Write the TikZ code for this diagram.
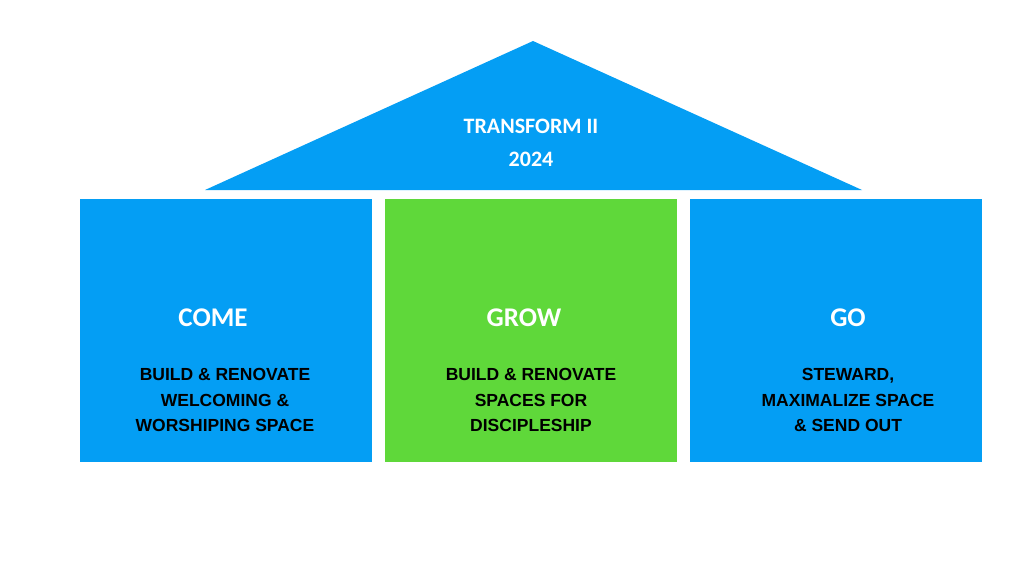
\documentclass[tikz,border=0pt]{standalone}
\usepackage{fontspec}
\setmainfont{Liberation Sans}
\newfontfamily\carlitofont{Carlito}
\definecolor{bl}{HTML}{049EF4}
\definecolor{gr}{HTML}{5FD83A}
\begin{document}
\begin{tikzpicture}[x=1pt,y=-1pt,
 title/.style={text=white,font=\carlitofont\bfseries\fontsize{27}{30}\selectfont},
 body/.style={text=black,align=center,font=\bfseries\fontsize{17.5}{25.5}\selectfont}]
\useasboundingbox (0,0) rectangle (1024,576);
\fill[bl] (533,41) -- (862,190) -- (205,190) -- cycle;
\node[text=white,align=center,font=\carlitofont\bfseries\fontsize{22}{33}\selectfont] (roof) at (531,143) {TRANSFORM II\\2024};
\fill[bl] (80,199) rectangle (372,462);
\fill[gr] (385,199) rectangle (677,462);
\fill[bl] (690,199) rectangle (982,462);
\node[title] (t1) at (213,318) {COME};
\node[title] (t2) at (524,318) {GROW};
\node[title] (t3) at (848,318) {GO};
\node[body] (b1) at (225,400) {BUILD \& RENOVATE\\WELCOMING \&\\WORSHIPING SPACE};
\node[body] (b2) at (531,400) {BUILD \& RENOVATE\\SPACES FOR\\DISCIPLESHIP};
\node[body] (b3) at (848,400) {STEWARD,\\MAXIMALIZE SPACE\\\& SEND OUT};
\end{tikzpicture}
\end{document}
